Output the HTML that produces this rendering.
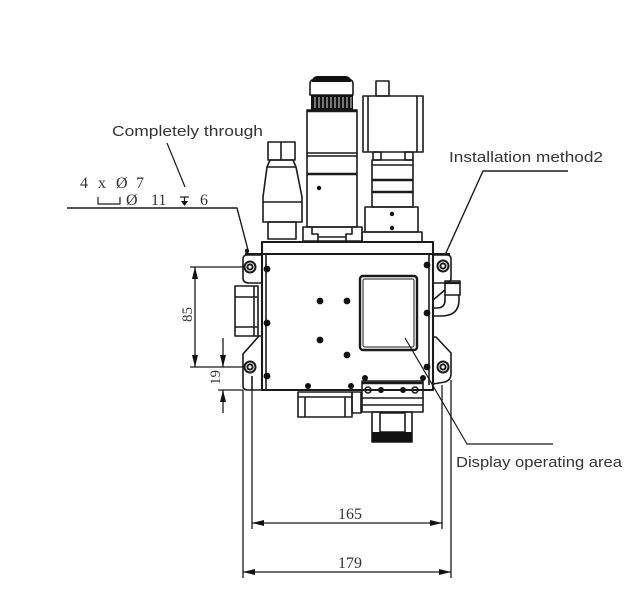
<!DOCTYPE html>
<html><head><meta charset="utf-8"><style>
html,body{margin:0;padding:0;background:#fff;}
svg{display:block;}
</style></head><body>
<svg width="636" height="609" viewBox="0 0 636 609" xmlns="http://www.w3.org/2000/svg">
<rect width="636" height="609" fill="#fff"/>
<g fill="none" stroke="#1a1a1a" stroke-width="1.6" stroke-linejoin="round">
<!-- left gland -->
<rect x="268" y="142" width="27" height="18"/>
<line x1="281" y1="142" x2="281" y2="160"/>
<polygon points="270,160 293,160 296,167 302,197 302,222 263,222 263,197 267,167"/>
<line x1="267" y1="167" x2="296" y2="167"/>
<line x1="263" y1="202" x2="302" y2="202"/>
<rect x="268" y="222" width="28" height="17"/>
<!-- middle column -->
<path d="M310,95 L310,84 Q310,79 316,79 L347,79 Q353,79 353,84 L353,95 Z"/>
<rect x="307" y="110" width="50" height="117"/>
<line x1="307" y1="111" x2="357" y2="111" stroke-width="2.4"/>
<line x1="307" y1="153" x2="357" y2="153"/>
<line x1="307" y1="156" x2="357" y2="156"/>
<line x1="307" y1="174" x2="357" y2="174" stroke-width="2.4"/>
<rect x="303" y="227" width="59" height="14"/>
<polyline points="312,227 312,234 318,234 318,241"/>
<polyline points="352,227 352,234 346,234 346,241"/>
<line x1="318" y1="237" x2="346" y2="237"/>
<!-- right camera -->
<rect x="376" y="81" width="13" height="15"/>
<rect x="363" y="96" width="60" height="56"/>
<line x1="368" y1="96" x2="368" y2="152"/>
<line x1="417" y1="96" x2="417" y2="152"/>
<rect x="373" y="152" width="8" height="8"/>
<rect x="405" y="152" width="8" height="8"/>
<rect x="372" y="160" width="41" height="47"/>
<line x1="372" y1="165" x2="413" y2="165"/>
<line x1="372" y1="180" x2="413" y2="180" stroke-width="2.4"/>
<line x1="372" y1="192" x2="413" y2="192" stroke-width="2.4"/>
<rect x="365" y="207" width="53" height="25"/>
<rect x="362" y="232" width="60" height="10"/>
<!-- body -->
<rect x="262" y="242" width="171" height="148" stroke-width="2.1"/>
<line x1="266" y1="254" x2="266" y2="390"/>
<line x1="429" y1="254" x2="429" y2="385"/>
<line x1="245" y1="254" x2="450" y2="254" stroke-width="2"/>
<!-- left ears -->
<path d="M262,255 L247,255 Q243,255 243,259 L243,278 Q243,283 249,283 L262,283"/>
<rect x="235" y="286" width="23" height="50"/>
<line x1="235" y1="297" x2="258" y2="297"/>
<line x1="235" y1="327" x2="258" y2="327"/>
<line x1="254" y1="286" x2="254" y2="336"/>
<path d="M262,336 L259,336 L243,354 L243,386 Q243,390 248,390 L262,390"/>
<line x1="252" y1="376" x2="252" y2="390"/>
<!-- right ears -->
<path d="M433,255 L447,255 Q451,255 451,259 L451,278 Q451,283 445,283 L433,283"/>
<path d="M433,337 L436,337 L451,353 L451,374 Q451,380 445,382 L433,384"/>
<rect x="445" y="281" width="15" height="14"/>
<line x1="445" y1="283" x2="460" y2="283" stroke-width="2.2"/>
<path d="M445,295 L445,300 Q445,308 437,308 L433,308"/>
<path d="M459,295 L459,300 Q459,316 441,316 L433,316"/>
<line x1="433" y1="300" x2="445" y2="290"/>
<!-- holes -->
<g stroke-width="2">
<circle cx="250" cy="267" r="5.5"/><circle cx="250" cy="267" r="2.6"/>
<circle cx="250" cy="367" r="5.5"/><circle cx="250" cy="367" r="2.6"/>
<circle cx="443" cy="266" r="5.5"/><circle cx="443" cy="266" r="2.6"/>
<circle cx="443" cy="367" r="5.5"/><circle cx="443" cy="367" r="2.6"/>
</g>
<!-- display -->
<rect x="360" y="276" width="57" height="74" rx="3" stroke-width="2.4"/>
<rect x="363" y="279" width="51" height="68" rx="2" stroke-width="1"/>
<!-- bottom parts -->
<rect x="298" y="392" width="54" height="25"/>
<line x1="298" y1="397" x2="352" y2="397"/>
<line x1="305" y1="397" x2="305" y2="417"/>
<line x1="345" y1="397" x2="345" y2="417"/>
<rect x="352" y="392" width="9" height="21"/>
<rect x="362" y="381" width="61" height="31"/>
<line x1="362" y1="383" x2="423" y2="383" stroke-width="2.6"/>
<line x1="362" y1="398" x2="423" y2="398"/>
<line x1="362" y1="405" x2="423" y2="405"/>
<circle cx="368" cy="390" r="3"/><circle cx="415" cy="390" r="3"/>
<rect x="372" y="412" width="40" height="30"/>
<rect x="380" y="413" width="25" height="19"/>
<!-- leaders -->
<line x1="167" y1="143" x2="185" y2="187" stroke-width="1.2"/>
<polyline points="67,208 237,208 248,250" stroke-width="1.4"/>
<polyline points="568,171 483,171 445,255" stroke-width="1.4"/>
<polyline points="553,444 467,444 405,338" stroke-width="1.2"/>
<polyline points="98,197 98,204 120,204 120,197" stroke-width="1.2"/>
<line x1="180" y1="197" x2="189" y2="197" stroke-width="1.2"/>
<line x1="184.5" y1="197" x2="184.5" y2="205" stroke-width="1.2"/>
<!-- dimension lines -->
<g stroke-width="1.3">
<line x1="243" y1="390" x2="243" y2="578"/>
<line x1="252" y1="390" x2="252" y2="529"/>
<line x1="442" y1="385" x2="442" y2="529"/>
<line x1="451" y1="380" x2="451" y2="578"/>
<line x1="252" y1="523" x2="442" y2="523"/>
<line x1="243" y1="572" x2="451" y2="572"/>
<line x1="190" y1="267" x2="243" y2="267"/>
<line x1="190" y1="367" x2="244" y2="367"/>
<line x1="218" y1="390" x2="243" y2="390"/>
<line x1="195" y1="267" x2="195" y2="367"/>
<line x1="223" y1="338" x2="223" y2="367"/>
<line x1="223" y1="390" x2="223" y2="413"/>
</g>
</g>
<g fill="#111" stroke="none">
<!-- cap top dark -->
<path d="M312,82 Q312,76 318,76 L345,76 Q351,76 351,82 Z"/>
<!-- knurl -->
<rect x="311" y="95" width="42" height="15"/>
</g>
<g stroke="#ddd" stroke-width="1">
<line x1="315" y1="97" x2="315" y2="108"/><line x1="319" y1="97" x2="319" y2="108"/><line x1="323" y1="97" x2="323" y2="108"/><line x1="327" y1="97" x2="327" y2="108"/><line x1="331" y1="97" x2="331" y2="108"/><line x1="335" y1="97" x2="335" y2="108"/><line x1="339" y1="97" x2="339" y2="108"/><line x1="343" y1="97" x2="343" y2="108"/><line x1="347" y1="97" x2="347" y2="108"/><line x1="351" y1="97" x2="351" y2="108"/>
</g>
<g fill="#111" stroke="none">
<circle cx="319" cy="188" r="2.2"/>
<circle cx="392" cy="214" r="2.2"/>
<circle cx="392" cy="228" r="2.2"/>
<circle cx="267" cy="269" r="3.4"/><circle cx="267" cy="323" r="3.4"/><circle cx="267" cy="376" r="3.4"/>
<circle cx="427" cy="265" r="3.4"/><circle cx="427" cy="313" r="3.4"/><circle cx="427" cy="367" r="3.4"/>
<circle cx="320" cy="301" r="3.4"/><circle cx="347" cy="301" r="3.4"/>
<circle cx="320" cy="340" r="3.4"/><circle cx="347" cy="355" r="3.4"/>
<circle cx="308" cy="386" r="3"/><circle cx="351" cy="386" r="3"/>
<circle cx="365" cy="378" r="3"/><circle cx="423" cy="378" r="3"/>
<circle cx="381" cy="390" r="3"/><circle cx="403" cy="390" r="3"/>
<rect x="372" y="432" width="40" height="10"/>
<circle cx="247" cy="251" r="2.2"/>
<polygon points="181,201 188,201 184.5,206"/>
<!-- arrows -->
<polygon points="252,523 264,520 264,526"/>
<polygon points="442,523 430,520 430,526"/>
<polygon points="243,572 255,569 255,575"/>
<polygon points="451,572 439,569 439,575"/>
<polygon points="195,267 192,279 198,279"/>
<polygon points="195,367 192,355 198,355"/>
<polygon points="223,367 220,355 226,355"/>
<polygon points="223,390 220,402 226,402"/>
</g>
<g font-family="'Liberation Sans', sans-serif" font-size="15" fill="#333">
<text x="112" y="136" textLength="151" lengthAdjust="spacingAndGlyphs">Completely through</text>
<text x="449" y="162" textLength="154" lengthAdjust="spacingAndGlyphs">Installation method2</text>
<text x="456" y="467" textLength="166" lengthAdjust="spacingAndGlyphs">Display operating area</text>
</g>
<g font-family="'Liberation Serif', serif" font-size="16" fill="#333">
<text x="338" y="519" textLength="24" lengthAdjust="spacingAndGlyphs">165</text>
<text x="338" y="568" textLength="24" lengthAdjust="spacingAndGlyphs">179</text>
<text transform="translate(192,322) rotate(-90)" font-size="15">85</text>
<text transform="translate(220,385) rotate(-90)" font-size="15">19</text>
<text x="80" y="188">4</text>
<text x="98" y="188">x</text>
<text x="116" y="188">Ø</text>
<text x="136" y="188">7</text>
<text x="126" y="205">Ø</text>
<text x="151" y="205">11</text>
<text x="200" y="205">6</text>
</g>
</svg>
</body></html>
